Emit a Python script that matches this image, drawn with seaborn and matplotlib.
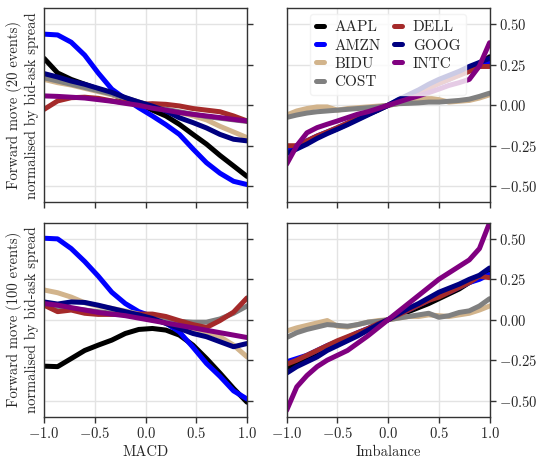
import numpy as np
import pandas as pd
import matplotlib
matplotlib.use("Agg")
import matplotlib.pyplot as plt
import seaborn as sns

# Bin centres of the two signals
macd_x = [-1.0, -0.867, -0.733, -0.6, -0.467, -0.333, -0.2, -0.067,
          0.067, 0.2, 0.333, 0.467, 0.6, 0.733, 0.867, 1.0]
imb_x = [-1.0, -0.9, -0.8, -0.7, -0.6, -0.5, -0.4, -0.3, -0.2, -0.1, 0.0,
         0.1, 0.2, 0.3, 0.4, 0.5, 0.6, 0.7, 0.8, 0.9, 1.0]

tickers = ["AAPL", "AMZN", "BIDU", "COST", "DELL", "GOOG", "INTC"]
colors = ["#000000", "#0000ff", "#d2b48c", "#808080", "#a52a2a", "#000080", "#800080"]

# Forward move over 20 events vs MACD
macd20_aapl = [0.29, 0.2, 0.16, 0.13, 0.1, 0.068, 0.037, 0.01, -0.03, -0.066, -0.118, -0.18, -0.24, -0.31, -0.375, -0.44]
macd20_amzn = [0.44, 0.435, 0.39, 0.31, 0.2, 0.1, 0.04, -0.015, -0.066, -0.12, -0.18, -0.27, -0.355, -0.42, -0.47, -0.49]
macd20_bidu = [0.16, 0.14, 0.125, 0.105, 0.085, 0.065, 0.045, 0.02, -0.005, -0.025, -0.045, -0.065, -0.09, -0.13, -0.165, -0.2]
macd20_cost = [0.17, 0.15, 0.13, 0.11, 0.09, 0.07, 0.045, 0.02, -0.005, -0.025, -0.04, -0.055, -0.07, -0.08, -0.09, -0.1]
macd20_dell = [-0.025, 0.027, 0.047, 0.05, 0.043, 0.027, 0.017, 0.006, 0.01, 0.006, -0.004, -0.02, -0.03, -0.04, -0.066, -0.097]
macd20_goog = [0.196, 0.175, 0.15, 0.13, 0.105, 0.08, 0.048, 0.02, -0.005, -0.035, -0.077, -0.107, -0.14, -0.18, -0.21, -0.22]
macd20_intc = [0.058, 0.055, 0.05, 0.045, 0.035, 0.025, 0.012, 0.0, -0.018, -0.03, -0.045, -0.056, -0.066, -0.076, -0.087, -0.097]

# Forward move over 100 events vs MACD
macd100_aapl = [-0.287, -0.29, -0.24, -0.19, -0.157, -0.126, -0.085, -0.06, -0.054, -0.064, -0.095, -0.157, -0.24, -0.33, -0.425, -0.51]
macd100_amzn = [0.504, 0.5, 0.44, 0.36, 0.27, 0.17, 0.1, 0.05, 0.02, -0.02, -0.075, -0.17, -0.27, -0.35, -0.44, -0.49]
macd100_bidu = [0.184, 0.167, 0.14, 0.105, 0.085, 0.07, 0.054, 0.035, 0.01, -0.02, -0.045, -0.065, -0.075, -0.105, -0.157, -0.23]
macd100_cost = [0.09, 0.08, 0.07, 0.06, 0.05, 0.04, 0.03, 0.02, 0.01, 0.0, -0.01, -0.015, -0.015, 0.005, 0.04, 0.085]
macd100_dell = [0.09, 0.05, 0.06, 0.04, 0.033, 0.033, 0.033, 0.035, 0.035, 0.02, -0.006, -0.03, -0.048, -0.005, 0.047, 0.135]
macd100_goog = [0.11, 0.097, 0.11, 0.107, 0.09, 0.07, 0.05, 0.03, 0.008, -0.023, -0.054, -0.085, -0.105, -0.136, -0.167, -0.147]
macd100_intc = [0.1, 0.09, 0.075, 0.06, 0.045, 0.035, 0.025, 0.01, -0.005, -0.02, -0.035, -0.05, -0.065, -0.08, -0.095, -0.11]

# Forward move over 20 events vs order-book imbalance
imb20_aapl = [-0.29, -0.26, -0.23, -0.2, -0.17, -0.145, -0.115, -0.085, -0.055, -0.03, 0.0, 0.03, 0.06, 0.085, 0.11, 0.14, 0.165, 0.19, 0.22, 0.25, 0.3]
imb20_amzn = [-0.28, -0.25, -0.22, -0.19, -0.165, -0.14, -0.11, -0.08, -0.055, -0.025, 0.0, 0.03, 0.055, 0.085, 0.11, 0.135, 0.16, 0.19, 0.215, 0.24, 0.27]
imb20_bidu = [-0.06, -0.035, -0.02, -0.01, -0.01, -0.03, -0.02, -0.015, -0.01, -0.005, 0.0, 0.01, 0.02, 0.035, 0.045, 0.035, 0.02, 0.025, 0.03, 0.045, 0.065]
imb20_cost = [-0.075, -0.06, -0.048, -0.04, -0.035, -0.03, -0.025, -0.02, -0.015, -0.01, 0.0, 0.01, 0.012, 0.015, 0.02, 0.02, 0.025, 0.03, 0.038, 0.055, 0.075]
imb20_dell = [-0.25, -0.25, -0.22, -0.19, -0.165, -0.138, -0.11, -0.08, -0.055, -0.025, 0.0, 0.025, 0.05, 0.08, 0.105, 0.135, 0.16, 0.185, 0.21, 0.24, 0.24]
imb20_goog = [-0.3, -0.27, -0.24, -0.205, -0.175, -0.148, -0.12, -0.09, -0.06, -0.03, 0.0, 0.035, 0.065, 0.095, 0.13, 0.16, 0.185, 0.21, 0.24, 0.265, 0.29]
imb20_intc = [-0.364, -0.25, -0.17, -0.138, -0.117, -0.097, -0.076, -0.055, -0.04, -0.02, 0.0, 0.02, 0.04, 0.058, 0.078, 0.1, 0.123, 0.14, 0.16, 0.243, 0.387]

# Forward move over 100 events vs order-book imbalance
imb100_aapl = [-0.3, -0.27, -0.24, -0.21, -0.18, -0.15, -0.12, -0.09, -0.06, -0.03, 0.0, 0.025, 0.05, 0.075, 0.1, 0.13, 0.16, 0.19, 0.23, 0.26, 0.3]
imb100_amzn = [-0.26, -0.24, -0.22, -0.19, -0.16, -0.135, -0.11, -0.08, -0.055, -0.025, 0.0, 0.03, 0.06, 0.09, 0.12, 0.15, 0.17, 0.2, 0.23, 0.25, 0.28]
imb100_bidu = [-0.07, -0.05, -0.035, -0.02, -0.005, -0.04, -0.045, -0.03, -0.015, -0.005, 0.0, 0.01, 0.02, 0.02, 0.03, 0.025, 0.02, 0.03, 0.04, 0.06, 0.085]
imb100_cost = [-0.11, -0.08, -0.06, -0.045, -0.03, -0.035, -0.04, -0.03, -0.015, -0.01, 0.0, 0.01, 0.02, 0.03, 0.04, 0.015, 0.025, 0.045, 0.055, 0.085, 0.13]
imb100_dell = [-0.275, -0.25, -0.22, -0.19, -0.16, -0.13, -0.105, -0.08, -0.055, -0.025, 0.0, 0.03, 0.06, 0.09, 0.12, 0.14, 0.17, 0.2, 0.23, 0.27, 0.26]
imb100_goog = [-0.33, -0.29, -0.26, -0.23, -0.19, -0.16, -0.13, -0.1, -0.065, -0.03, 0.0, 0.035, 0.07, 0.1, 0.135, 0.17, 0.195, 0.22, 0.25, 0.275, 0.32]
imb100_intc = [-0.56, -0.415, -0.345, -0.29, -0.25, -0.22, -0.19, -0.145, -0.1, -0.05, 0.0, 0.05, 0.1, 0.15, 0.2, 0.25, 0.29, 0.33, 0.37, 0.44, 0.6]

panels = [
    (0, 0, macd_x, [macd20_aapl, macd20_amzn, macd20_bidu, macd20_cost, macd20_dell, macd20_goog, macd20_intc]),
    (0, 1, imb_x, [imb20_aapl, imb20_amzn, imb20_bidu, imb20_cost, imb20_dell, imb20_goog, imb20_intc]),
    (1, 0, macd_x, [macd100_aapl, macd100_amzn, macd100_bidu, macd100_cost, macd100_dell, macd100_goog, macd100_intc]),
    (1, 1, imb_x, [imb100_aapl, imb100_amzn, imb100_bidu, imb100_cost, imb100_dell, imb100_goog, imb100_intc]),
]

sns.set_style("whitegrid", {"grid.color": "#e3e3e3", "axes.edgecolor": "#333333"})
plt.rcParams.update({
    "font.family": "serif",
    "font.serif": ["cmr10"],
    "mathtext.fontset": "cm",
    "axes.formatter.use_mathtext": True,
    "font.size": 10.5,
    "axes.unicode_minus": True,
})

fs = 10.5
fig, axes = plt.subplots(2, 2, figsize=(5.38, 4.59), dpi=100)
fig.subplots_adjust(left=0.082, right=0.910, top=0.982, bottom=0.092,
                    wspace=0.195, hspace=0.105)

for r, c, xs, series in panels:
    ax = axes[r, c]
    for name, col, ys in zip(tickers, colors, series):
        df = pd.DataFrame({"x": xs, "y": ys})
        sns.lineplot(data=df, x="x", y="y", color=col, lw=3.6, ax=ax,
                     label=name, legend=False)
    ax.set_xlim(-1, 1)
    ax.set_ylim(-0.6, 0.6)
    ax.set_xticks([-1.0, -0.5, 0.0, 0.5, 1.0])
    ax.set_yticks([-0.5, -0.25, 0.0, 0.25, 0.5])
    ax.grid(True, lw=1.0)
    ax.yaxis.tick_right()
    ax.tick_params(axis="both", which="both", direction="out", length=4,
                   width=1, color="#333333", labelsize=fs, pad=3)
    ax.tick_params(axis="x", bottom=True)
    ax.tick_params(axis="y", right=True, left=False)
    for sp in ax.spines.values():
        sp.set_linewidth(1.0)
        sp.set_color("#333333")
    ax.set_xlabel("")
    ax.set_ylabel("")
    if r == 0:
        ax.set_xticklabels([])
    if c == 0:
        ax.set_yticklabels([])

axes[0, 0].set_ylabel("Forward move (20 events)\nnormalised by bid-ask spread", fontsize=fs, labelpad=4)
axes[1, 0].set_ylabel("Forward move (100 events)\nnormalised by bid-ask spread", fontsize=fs, labelpad=4)
axes[1, 0].set_xlabel("MACD", fontsize=fs, labelpad=3)
axes[1, 1].set_xlabel("Imbalance", fontsize=fs, labelpad=3)

axes[0, 1].legend(loc="upper center", ncol=2, handlelength=0.5,
                  handletextpad=0.7, columnspacing=0.9, labelspacing=0.3,
                  fontsize=11, frameon=True, framealpha=0.8,
                  edgecolor="#f0f0f0", borderaxespad=0.4)

fig.savefig("out.png", dpi=100)
